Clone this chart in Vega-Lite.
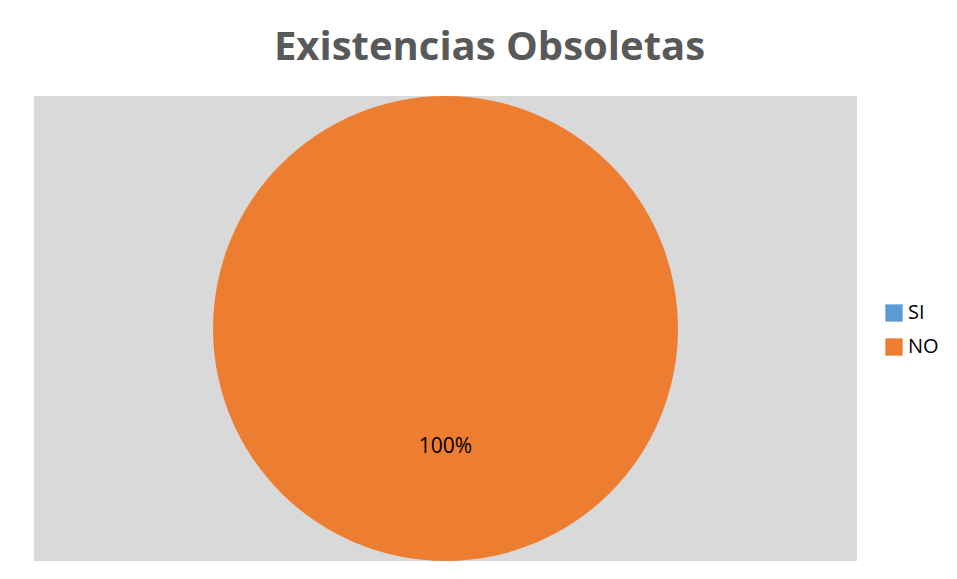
{
  "$schema": "https://vega.github.io/schema/vega-lite/v6.json",
  "width": 823,
  "height": 465,
  "autosize": "none",
  "padding": {"left": 34, "top": 96, "right": 100, "bottom": 18},
  "background": "white",
  "view": {"fill": "#d9d9d9", "stroke": null},
  "title": {
    "text": "Existencias Obsoletas",
    "font": "Open Sans",
    "fontSize": 40,
    "fontWeight": "bold",
    "color": "#595959",
    "anchor": "middle",
    "dx": 44,
    "offset": 28
  },
  "data": {
    "values": [
      {"respuesta": "SI", "valor": 0, "etiqueta": "0%"},
      {"respuesta": "NO", "valor": 100, "etiqueta": "100%"}
    ]
  },
  "layer": [
    {
      "mark": {"type": "arc", "stroke": null},
      "encoding": {
        "theta": {"field": "valor", "type": "quantitative", "stack": true},
        "color": {
          "field": "respuesta",
          "type": "nominal",
          "sort": ["SI", "NO"],
          "scale": {"domain": ["SI", "NO"], "range": ["#5b9bd5", "#ed7d31"]},
          "legend": {
            "title": null,
            "orient": "none",
            "legendX": 850,
            "legendY": 207,
            "symbolType": "square",
            "symbolSize": 300,
            "symbolStrokeWidth": 0,
            "labelFont": "Open Sans",
            "labelFontSize": 20,
            "labelColor": "#000000",
            "labelOffset": 4,
            "rowPadding": 14,
            "padding": 0
          }
        },
        "order": {"field": "respuesta", "sort": "descending"}
      }
    },
    {
      "transform": [{"filter": "datum.valor > 0"}],
      "mark": {"type": "text", "radius": 118, "font": "Open Sans", "fontSize": 21, "color": "#000000"},
      "encoding": {
        "theta": {"field": "valor", "type": "quantitative", "stack": true},
        "text": {"field": "etiqueta", "type": "nominal"}
      }
    }
  ]
}
